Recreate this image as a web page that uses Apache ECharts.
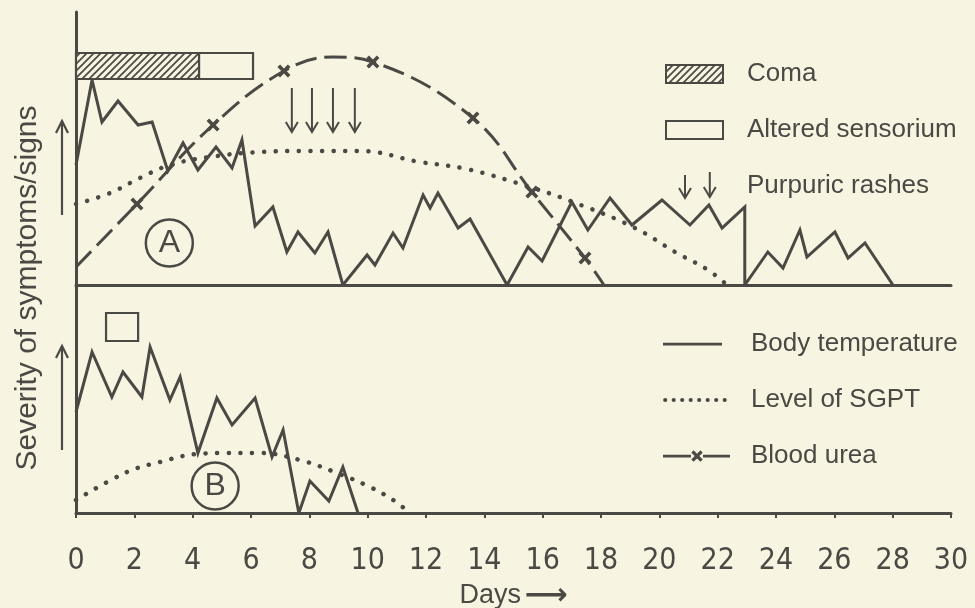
<!DOCTYPE html>
<html><head><meta charset="utf-8">
<script src="https://cdn.jsdelivr.net/npm/echarts@6/dist/echarts.min.js"></script>
<style>html,body{margin:0;padding:0;background:#f7f4e2}#c{width:975px;height:608px}</style>
</head><body><div id="c"></div>
<script>
// ---------- data ----------
const xTickLabels = ['0','2','4','6','8','10','12','14','16','18','20','22','24','26','28','30'];
// Panel A (fatal case)
const tempA = [[0,120],[0.55,205],[0.89,163],[1.44,184],[2.13,160],[2.61,163],[3.15,114],[3.67,142],[4.18,115],[4.80,138],[5.35,117],[5.69,145],[6.14,59],[6.75,78],[7.23,33],[7.61,53],[8.19,32],[8.64,53],[9.15,0],[9.98,30],[10.25,20],[10.87,52],[11.21,37],[11.90,90],[12.14,77],[12.41,92],[13.10,57],[13.51,66],[14.78,0],[15.50,38],[15.98,24],[17.00,83],[17.55,55],[18.31,87],[19.06,60],[20.09,85],[21.05,60],[21.70,80],[22.15,57],[22.93,78],[22.93,0],[23.72,33],[24.24,17],[24.82,55],[25.06,28],[26.02,53],[26.47,27],[27.05,42],[28.01,0]];
const sgptA = [[0,81],[1.17,92],[2.19,107],[3.22,120],[4.59,128],[6.31,133],[8.02,134],[9.74,134],[11.79,123],[13.40,116],[15.56,98],[17.04,83],[19.10,58],[20.60,32],[21.67,15],[22.32,0]];
const ureaA = [[0,18],[2.09,81],[4.70,160],[7.13,214],[8.81,228],[10.18,223],[13.61,167],[15.63,93],[17.45,27],[18.10,0]];
const ureaMarked = [false,true,true,true,false,true,true,true,true,false];
const comaA = [[0,4.22,206,232]];
const alteredA = [[4.22,6.07,206,232]];
const rashesA = [[7.40,153,197],[8.09,153,197],[8.81,153,197],[9.56,153,197],[20.88,87,110],[21.73,88,113]];
// Panel B (recovered case)
const tempB = [[0,101],[0.55,161],[1.23,116],[1.61,141],[2.26,116],[2.54,166],[3.22,113],[3.57,136],[4.18,60],[4.83,115],[5.35,88],[6.14,115],[6.72,56],[7.10,83],[7.64,0],[8.02,32],[8.67,12],[9.15,46],[9.67,0]];
const sgptB = [[0,13],[1.75,41],[2.88,51],[4.15,59],[5.18,60],[6.31,60],[7.68,53],[8.95,40],[10.08,26],[10.87,13],[11.45,0]];
const alteredB = [[1.03,2.13,172,200]];
const panelTagA = [[3.2,42,'A']];
const panelTagB = [[4.77,27,'B']];

// ---------- style ----------
const ink = '#4a4943';
const bg = '#f7f4e2';
const sans = '"Liberation Sans", Arial, Helvetica, sans-serif';
const narrow = '"Liberation Sans Narrow", "DejaVu Sans Condensed", "Liberation Sans", sans-serif';

function makeHatch(){
  const c = document.createElement('canvas');
  c.width = 7; c.height = 7;
  const g = c.getContext('2d');
  g.fillStyle = bg; g.fillRect(0,0,7,7);
  g.strokeStyle = ink; g.lineWidth = 1.7;
  g.beginPath();
  g.moveTo(-1,8); g.lineTo(8,-1);
  g.moveTo(-1,1); g.lineTo(1,-1);
  g.moveTo(6,8); g.lineTo(8,6);
  g.stroke();
  return {image: c, repeat: 'repeat'};
}
const hatch = makeHatch();
const xMark = 'path://M0,2 L2,0 L5,3 L8,0 L10,2 L7,5 L10,8 L8,10 L5,7 L2,10 L0,8 L3,5 Z';

// legend icon paths inside a fixed 67 x 14 box (corner specks fix the box)
const LW = 67, LH = 14;
const frame = 'M0,0L0.01,0L0,0.01Z M' + LW + ',' + LH + 'L' + (LW-0.01) + ',' + LH + 'L' + LW + ',' + (LH-0.01) + 'Z ';
function bar(x0, x1){ return 'M' + x0 + ',5.8L' + x1 + ',5.8L' + x1 + ',8.4L' + x0 + ',8.4Z '; }
function dot(cx, r){ return 'M' + (cx - r) + ',7 a' + r + ',' + r + ' 0 1,0 ' + (2*r) + ',0 a' + r + ',' + r + ' 0 1,0 ' + (-2*r) + ',0 Z '; }
function cross(cx, cy, s){
  const pts = [[0,2],[2,0],[5,3],[8,0],[10,2],[7,5],[10,8],[8,10],[5,7],[2,10],[0,8],[3,5]];
  return 'M' + pts.map(p => (cx - 5*s + p[0]*s).toFixed(2) + ',' + (cy - 5*s + p[1]*s).toFixed(2)).join('L') + 'Z ';
}
let dotsPath = '';
for (let i = 0; i < 8; i++) dotsPath += dot(2.2 + i * 8.5, 2.1);
const iconTemp = 'path://' + frame + bar(0, 59);
const iconSgpt = 'path://' + frame + dotsPath;
const iconUrea = 'path://' + frame + bar(0, 28) + cross(34, 7.1, 1.15) + bar(40, 67);

function boxRenderer(fill){
  return function(params, api){
    const p0 = api.coord([api.value(0), api.value(3)]);
    const p1 = api.coord([api.value(1), api.value(2)]);
    return {type:'rect', shape:{x:p0[0], y:p0[1], width:p1[0]-p0[0], height:p1[1]-p0[1]},
      style:{fill: fill, stroke: ink, lineWidth: 2.2}};
  };
}
function arrowRenderer(params, api){
  const tip = api.coord([api.value(0), api.value(1)]);
  const top = api.coord([api.value(0), api.value(2)]);
  return {type:'group', children:[
    {type:'line', shape:{x1:top[0], y1:top[1], x2:tip[0], y2:tip[1]}, style:{stroke:ink, lineWidth:2}},
    {type:'polyline', shape:{points:[[tip[0]-6,tip[1]-10],[tip[0],tip[1]],[tip[0]+6,tip[1]-10]]}, style:{stroke:ink, lineWidth:2, fill:null}}
  ]};
}

const xCommon = {type:'value', min:0, max:30, interval:2};
const option = {
  backgroundColor: bg,
  animation: false,
  grid: [
    {left:76, right:24, top:12, height:273, outerBoundsMode:'none', containLabel:false},
    {left:76, right:24, top:285, height:228, outerBoundsMode:'none', containLabel:false}
  ],
  xAxis: [
    Object.assign({gridIndex:0, axisLine:{lineStyle:{color:ink, width:3}}, axisTick:{show:false}, axisLabel:{show:false}, splitLine:{show:false}}, xCommon),
    Object.assign({gridIndex:1, axisLine:{lineStyle:{color:ink, width:3}},
      axisTick:{show:true, length:5, lineStyle:{color:ink, width:2}},
      axisLabel:{color:ink, fontSize:30, fontFamily:narrow, margin:33, formatter: v => xTickLabels[Math.round(v/2)]},
      splitLine:{show:false},
      name:'{a|Days} {b|⟶}', nameLocation:'middle', nameGap:68,
      nameTextStyle:{rich:{a:{fontSize:27, fontFamily:sans, color:ink}, b:{fontSize:30, fontFamily:'"DejaVu Sans", sans-serif', color:ink, fontWeight:'bold'}}}
    }, xCommon)
  ],
  yAxis: [
    {type:'value', gridIndex:0, min:0, max:273, axisLine:{show:true, lineStyle:{color:ink, width:3}}, axisTick:{show:false}, axisLabel:{show:false}, splitLine:{show:false}},
    {type:'value', gridIndex:1, min:0, max:228, axisLine:{show:true, lineStyle:{color:ink, width:3}}, axisTick:{show:false}, axisLabel:{show:false}, splitLine:{show:false}}
  ],
  legend: [
    {left:660, top:56, orient:'vertical', itemWidth:57, itemHeight:18, itemGap:30, selectedMode:false,
      textStyle:{fontSize:26, color:ink, fontFamily:sans, padding:[0,0,0,19]},
      data:[
        {name:'Coma', icon:'rect', itemStyle:{color:hatch, borderColor:ink, borderWidth:2}},
        {name:'Altered sensorium', icon:'rect', itemStyle:{color:bg, borderColor:ink, borderWidth:2}},
        {name:'Purpuric rashes', icon:'rect', itemStyle:{opacity:0}}
      ]},
    {left:658, top:326, orient:'vertical', itemWidth:LW, itemHeight:LH, itemGap:30, selectedMode:false,
      textStyle:{fontSize:26, color:ink, fontFamily:sans, padding:[0,0,0,16]},
      data:[
        {name:'Body temperature', icon: iconTemp},
        {name:'Level of SGPT', icon: iconSgpt},
        {name:'Blood urea', icon: iconUrea}
      ]}
  ],
  graphic: [
    {type:'text', x:28, y:288, rotation:Math.PI/2,
      style:{text:'Severity of symptoms/signs', fontSize:30, fontFamily:sans, fill:ink, align:'center', verticalAlign:'middle'}},
    {type:'polyline', shape:{points:[[62,215],[62,121]]}, style:{stroke:ink, lineWidth:2.2, fill:null}},
    {type:'polyline', shape:{points:[[56,133],[62,121],[68,133]]}, style:{stroke:ink, lineWidth:2.2, fill:null}},
    {type:'polyline', shape:{points:[[62,450],[62,346]]}, style:{stroke:ink, lineWidth:2.2, fill:null}},
    {type:'polyline', shape:{points:[[56,358],[62,346],[68,358]]}, style:{stroke:ink, lineWidth:2.2, fill:null}}
  ],
  series: [
    {name:'Coma', type:'custom', xAxisIndex:0, yAxisIndex:0, renderItem: boxRenderer(hatch), data: comaA, z:5},
    {name:'Altered sensorium', type:'custom', xAxisIndex:0, yAxisIndex:0, renderItem: boxRenderer(bg), data: alteredA, z:5},
    {name:'Altered sensorium', type:'custom', xAxisIndex:1, yAxisIndex:1, renderItem: boxRenderer(bg), data: alteredB, z:5},
    {name:'Purpuric rashes', type:'custom', xAxisIndex:0, yAxisIndex:0, renderItem: arrowRenderer, data: rashesA, z:5},
    {name:'Body temperature', type:'line', xAxisIndex:0, yAxisIndex:0, data: tempA, symbol:'none', color:ink,
      lineStyle:{color:ink, width:3, join:'miter'}, z:4},
    {name:'Body temperature', type:'line', xAxisIndex:1, yAxisIndex:1, data: tempB, symbol:'none', color:ink,
      lineStyle:{color:ink, width:3, join:'miter'}, z:4},
    {name:'Level of SGPT', type:'line', xAxisIndex:0, yAxisIndex:0, data: sgptA, symbol:'none', smooth:0.4, color:ink,
      lineStyle:{color:ink, width:4.5, type:[0.1,11.5], cap:'round'}, z:3},
    {name:'Level of SGPT', type:'line', xAxisIndex:1, yAxisIndex:1, data: sgptB, symbol:'none', smooth:0.4, color:ink,
      lineStyle:{color:ink, width:4.5, type:[0.1,11.5], cap:'round'}, z:3},
    {name:'Blood urea', type:'line', xAxisIndex:0, yAxisIndex:0, smooth:0.4, color:ink,
      data: ureaA.map((p,i) => ureaMarked[i] ? {value:p} : {value:p, symbol:'none'}),
      symbol: xMark, symbolSize:13, showAllSymbol:true,
      itemStyle:{color:ink}, lineStyle:{color:ink, width:3, type:[22,8]}, z:3},
    {name:'tagA', type:'scatter', xAxisIndex:0, yAxisIndex:0, data: panelTagA, symbol:'circle', symbolSize:47,
      itemStyle:{color:'rgba(0,0,0,0)', borderColor:ink, borderWidth:2.5, opacity:1},
      label:{show:true, position:'inside', formatter: p => p.data[2], fontSize:32, fontFamily:sans, color:ink}},
    {name:'tagB', type:'scatter', xAxisIndex:1, yAxisIndex:1, data: panelTagB, symbol:'circle', symbolSize:47,
      itemStyle:{color:'rgba(0,0,0,0)', borderColor:ink, borderWidth:2.5, opacity:1},
      label:{show:true, position:'inside', formatter: p => p.data[2], fontSize:32, fontFamily:sans, color:ink}}
  ]
};
const chart = echarts.init(document.getElementById('c'));
chart.setOption(option);
</script>
</body></html>
